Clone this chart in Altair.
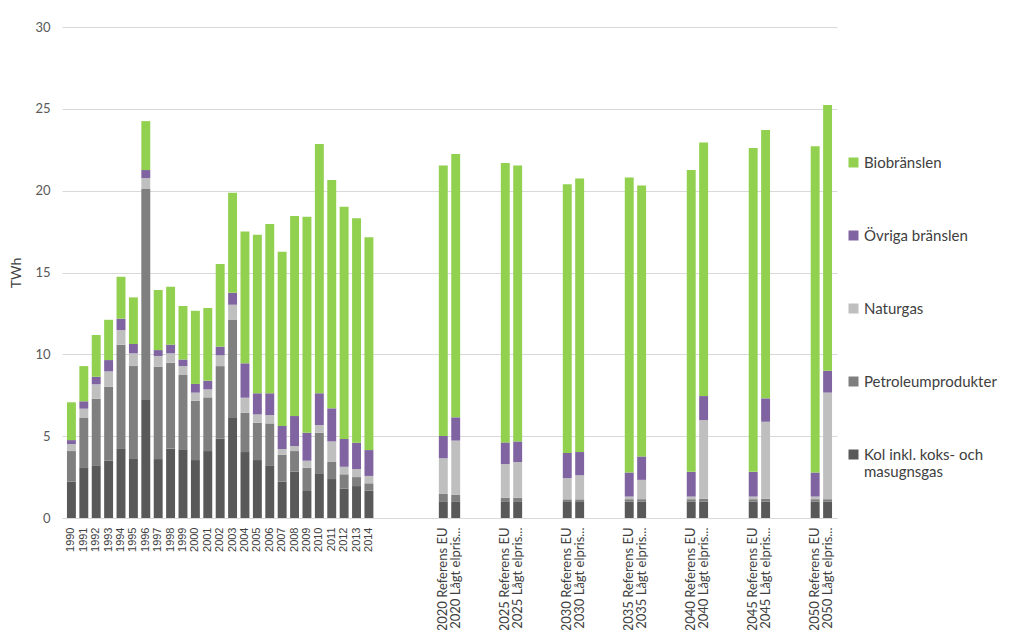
import altair as alt
import pandas as pd

# ---- categories ----
hist_years = ["1990", "1991", "1992", "1993", "1994", "1995", "1996", "1997", "1998",
              "1999", "2000", "2001", "2002", "2003", "2004", "2005", "2006", "2007",
              "2008", "2009", "2010", "2011", "2012", "2013", "2014"]
scen_years = ["2020", "2025", "2030", "2035", "2040", "2045", "2050"]
scen_names = ["Referens EU", "Lågt elpris..."]

series = ["Biobränslen", "Övriga bränslen", "Naturgas", "Petroleumprodukter",
          "Kol inkl. koks- och masugnsgas"]
colors = ["#92d050", "#8064a2", "#bfbfbf", "#7f7f7f", "#595959"]

# ---- values (TWh) : 25 historical years then 14 scenario bars ----
kol = [2.22, 3.10, 3.22, 3.50, 4.26, 3.65, 7.21, 3.60, 4.24, 4.20, 3.54, 4.09, 4.85,
       6.11, 4.03, 3.54, 3.18, 2.22, 2.83, 1.65, 2.73, 2.38, 1.79, 1.95, 1.67,
       1.02, 1.02, 0.98, 0.98, 0.98, 0.98, 1.01, 1.01, 1.01, 1.01, 1.01, 1.01, 1.01, 1.01]
petroleum = [1.87, 3.01, 4.07, 4.52, 6.33, 5.63, 12.89, 5.64, 5.25, 4.54, 3.63, 3.28, 4.43,
             5.99, 2.40, 2.28, 2.60, 1.65, 1.26, 1.42, 2.48, 1.04, 0.88, 0.55, 0.45,
             0.45, 0.39, 0.26, 0.26, 0.16, 0.16, 0.14, 0.14, 0.14, 0.17, 0.14, 0.17, 0.14, 0.14]
naturgas = [0.43, 0.57, 0.88, 0.94, 0.89, 0.78, 0.67, 0.66, 0.57, 0.54, 0.49, 0.49, 0.66,
            0.93, 0.92, 0.51, 0.51, 0.34, 0.31, 0.43, 0.47, 1.26, 0.46, 0.49, 0.45,
            2.18, 3.32, 2.06, 2.18, 1.30, 1.47, 0.16, 1.18, 0.16, 4.80, 0.16, 4.70, 0.16, 6.51]
ovriga = [0.24, 0.45, 0.46, 0.69, 0.70, 0.57, 0.49, 0.36, 0.53, 0.41, 0.53, 0.53, 0.53,
          0.73, 2.10, 1.29, 1.33, 1.41, 1.83, 1.71, 1.94, 2.02, 1.70, 1.61, 1.58,
          1.36, 1.42, 1.32, 1.26, 1.53, 1.42, 1.47, 1.43, 1.51, 1.47, 1.51, 1.43, 1.47, 1.34]
bio = [2.31, 2.15, 2.55, 2.46, 2.56, 2.85, 2.99, 3.67, 3.54, 3.26, 4.47, 4.44, 5.05,
       6.11, 8.06, 9.69, 10.34, 10.65, 12.22, 13.20, 15.23, 13.95, 14.19, 13.71, 13.00,
       16.53, 16.09, 17.07, 16.86, 16.42, 16.72, 18.03, 16.56, 18.44, 15.50, 19.78, 16.39,
       19.94, 16.23]

# ---- build category order with empty spacer slots ----
scen_cats = []
order = list(hist_years)
blank_i = 0
for k in range(5):
    blank_i += 1
    order.append("_b%d" % blank_i)
for j, y in enumerate(scen_years):
    if j > 0:
        for k in range(3):
            blank_i += 1
            order.append("_b%d" % blank_i)
    for nm in scen_names:
        c = y + " " + nm
        scen_cats.append(c)
        order.append(c)

cats = hist_years + scen_cats
vals = {
    "Kol inkl. koks- och masugnsgas": kol,
    "Petroleumprodukter": petroleum,
    "Naturgas": naturgas,
    "Övriga bränslen": ovriga,
    "Biobränslen": bio,
}
stack_rank = {s: i for i, s in enumerate(reversed(series))}
rows = []
for s, v in vals.items():
    for c, x in zip(cats, v):
        rows.append({"kategori": c, "serie": s, "TWh": x, "ord": stack_rank[s]})
df = pd.DataFrame(rows)

chart = alt.Chart(df).mark_bar().encode(
    x=alt.X("kategori:N", sort=order,
            scale=alt.Scale(domain=order, paddingInner=0.28, paddingOuter=0.4),
            axis=alt.Axis(title=None, labelAngle=-90, ticks=False, domainColor="#d9d9d9",
                          labelPadding=9, labelOverlap=False, labelBound=False,
                          labelExpr="indexof(datum.label, '_b') == 0 ? '' : datum.label",
                          labelFont={"condition": {"test": "indexof(datum.label, ' ') < 0",
                                                   "value": "Liberation Sans"},
                                     "value": "Lato"},
                          labelFontSize={"condition": {"test": "indexof(datum.label, ' ') < 0",
                                                       "value": 11},
                                         "value": 13},
                          labelColor="#404040")),
    y=alt.Y("TWh:Q", stack="zero",
            scale=alt.Scale(domain=[0, 30], nice=False),
            axis=alt.Axis(values=[0, 5, 10, 15, 20, 25, 30], grid=True, gridColor="#d9d9d9",
                          domain=False, ticks=False, labelFont="Lato", labelFontSize=13,
                          labelColor="#595959", labelPadding=12, title="TWh",
                          titleFont="Lato", titleFontSize=14, titleFontWeight="normal",
                          titleColor="#404040", titlePadding=11)),
    color=alt.Color("serie:N",
                    scale=alt.Scale(domain=series, range=colors),
                    legend=alt.Legend(title=None, orient="none", legendX=784, legendY=128,
                                      symbolType="square", symbolSize=100,
                                      symbolStrokeWidth=0, labelFont="Lato",
                                      labelFontSize=15, labelColor="#404040",
                                      labelOffset=3, rowPadding=57, padding=0,
                                      labelLimit=200,
                                      labelExpr="datum.label == 'Kol inkl. koks- och masugnsgas' ? ['Kol inkl. koks- och', 'masugnsgas'] : datum.label")),
    order=alt.Order("ord:Q", sort="ascending"),
    tooltip=["kategori", "serie", "TWh"],
).properties(
    width=775, height=491,
    autosize=alt.AutoSizeParams(type="none"),
    padding={"left": 54, "top": 19, "right": 170, "bottom": 112},
).configure_view(stroke=None)

chart.save("out.html", embed_options={"renderer": "svg", "actions": False})
